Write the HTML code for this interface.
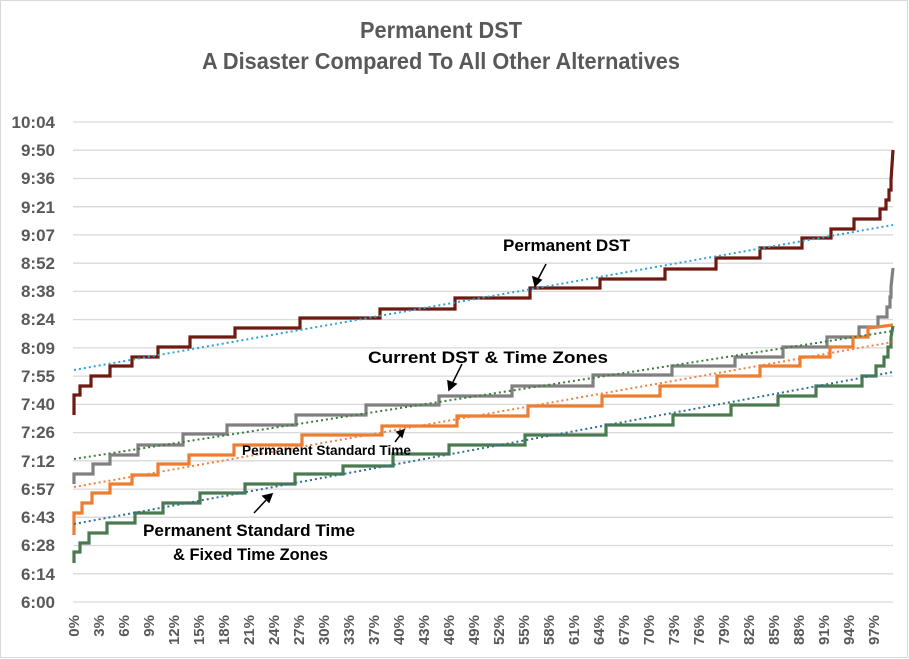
<!DOCTYPE html>
<html><head><style>
body{margin:0;background:#fff;}
svg{display:block;font-family:"Liberation Sans",sans-serif;}
</style></head><body>
<svg width="909" height="659" viewBox="0 0 909 659" xmlns="http://www.w3.org/2000/svg">
<rect x="0.5" y="0.5" width="907" height="657" fill="#fff" stroke="#d9d9d9"/>
<text x="360" y="38" font-size="23" font-weight="bold" fill="#595959" textLength="162" lengthAdjust="spacingAndGlyphs">Permanent DST</text>
<text x="202" y="69" font-size="23" font-weight="bold" fill="#595959" textLength="478" lengthAdjust="spacingAndGlyphs">A Disaster  Compared To All Other Alternatives</text>
<g stroke="#d9d9d9" stroke-width="1.3">
<line x1="73" x2="893" y1="122" y2="122"/><line x1="73" x2="893" y1="150.2" y2="150.2"/><line x1="73" x2="893" y1="178.5" y2="178.5"/><line x1="73" x2="893" y1="206.7" y2="206.7"/><line x1="73" x2="893" y1="234.9" y2="234.9"/><line x1="73" x2="893" y1="263.2" y2="263.2"/><line x1="73" x2="893" y1="291.4" y2="291.4"/><line x1="73" x2="893" y1="319.6" y2="319.6"/><line x1="73" x2="893" y1="347.9" y2="347.9"/><line x1="73" x2="893" y1="376.1" y2="376.1"/><line x1="73" x2="893" y1="404.4" y2="404.4"/><line x1="73" x2="893" y1="432.6" y2="432.6"/><line x1="73" x2="893" y1="460.8" y2="460.8"/><line x1="73" x2="893" y1="489.1" y2="489.1"/><line x1="73" x2="893" y1="517.3" y2="517.3"/><line x1="73" x2="893" y1="545.5" y2="545.5"/><line x1="73" x2="893" y1="573.8" y2="573.8"/><line x1="73" x2="893" y1="602" y2="602"/>
</g>
<g font-size="17" font-weight="bold" fill="#595959" text-anchor="end">
<text x="55" y="128">10:04</text><text x="55" y="156">9:50</text><text x="55" y="184">9:36</text><text x="55" y="213">9:21</text><text x="55" y="241">9:07</text><text x="55" y="269">8:52</text><text x="55" y="297">8:38</text><text x="55" y="325">8:24</text><text x="55" y="354">8:09</text><text x="55" y="382">7:55</text><text x="55" y="410">7:40</text><text x="55" y="438">7:26</text><text x="55" y="467">7:12</text><text x="55" y="495">6:57</text><text x="55" y="523">6:43</text><text x="55" y="551">6:28</text><text x="55" y="580">6:14</text><text x="55" y="608">6:00</text>
</g>
<g font-size="15" font-weight="bold" fill="#595959" text-anchor="end">
<text transform="translate(79,615) rotate(-90)">0%</text><text transform="translate(104,615) rotate(-90)">3%</text><text transform="translate(129,615) rotate(-90)">6%</text><text transform="translate(154,615) rotate(-90)">9%</text><text transform="translate(179,615) rotate(-90)">12%</text><text transform="translate(204,615) rotate(-90)">15%</text><text transform="translate(229,615) rotate(-90)">18%</text><text transform="translate(254,615) rotate(-90)">21%</text><text transform="translate(279,615) rotate(-90)">24%</text><text transform="translate(304,615) rotate(-90)">27%</text><text transform="translate(329,615) rotate(-90)">30%</text><text transform="translate(354,615) rotate(-90)">33%</text><text transform="translate(379,615) rotate(-90)">37%</text><text transform="translate(404,615) rotate(-90)">40%</text><text transform="translate(429,615) rotate(-90)">43%</text><text transform="translate(454,615) rotate(-90)">46%</text><text transform="translate(479,615) rotate(-90)">49%</text><text transform="translate(504,615) rotate(-90)">52%</text><text transform="translate(529,615) rotate(-90)">55%</text><text transform="translate(554,615) rotate(-90)">58%</text><text transform="translate(579,615) rotate(-90)">61%</text><text transform="translate(604,615) rotate(-90)">64%</text><text transform="translate(629,615) rotate(-90)">67%</text><text transform="translate(654,615) rotate(-90)">70%</text><text transform="translate(679,615) rotate(-90)">73%</text><text transform="translate(704,615) rotate(-90)">76%</text><text transform="translate(729,615) rotate(-90)">79%</text><text transform="translate(754,615) rotate(-90)">82%</text><text transform="translate(779,615) rotate(-90)">85%</text><text transform="translate(804,615) rotate(-90)">88%</text><text transform="translate(829,615) rotate(-90)">91%</text><text transform="translate(854,615) rotate(-90)">94%</text><text transform="translate(879,615) rotate(-90)">97%</text>
</g>
<g fill="none" stroke-width="3.2" stroke-linejoin="miter">
<path stroke="#6e1a10" d="M74,415 V395 H80 V386 H91 V376 H110 V366 H132 V357 H158 V347 H190 V337 H235 V328 H300 V318 H380 V309 H455 V298 H530 V288 H600 V279 H665 V269 H716 V258 H760 V248 H802 V238 H831 V229 H854 V219 H880 V209 H886 V200 H889 V190 H891 V180 L893,150"/>
<path stroke="#808080" d="M74,484 V474 H93 V464 H110 V455 H138 V445 H183 V434 H227 V425 H296 V415 H366 V405 H439 V396 H512 V386 H593 V375 H672 V366 H735 V357 H783 V347 H827 V337 H859 V327 H878 V317 H887 V307 H890 V297 H891 V287 L893,268"/>
<path stroke="#ed7d31" d="M74,535 V513 H82 V503 H92 V493 H110 V484 H132 V475 H158 V464 H189 V455 H234 V445 H302 V435 H382 V426 H457 V416 H528 V406 H602 V396 H660 V386 H717 V376 H760 V366 H800 V357 H830 V347 H853 V337 H868 V328 L893,325"/>
<path stroke="#4a7a50" d="M74,563 V552 H80 V543 H89 V533 H107 V523 H135 V513 H163 V503 H200 V493 H245 V484 H295 V474 H343 V466 H393 V454 H449 V445 H525 V435 H606 V425 H673 V415 H731 V405 H778 V396 H816 V386 H862 V376 H876 V366 H884 V357 H888 V347 H891 V337 L893,326"/>
</g>
<g fill="none" stroke-width="2" stroke-dasharray="2 3">
<line x1="74" y1="370" x2="893" y2="225" stroke="#2aa3d8"/>
<line x1="74" y1="459" x2="893" y2="331" stroke="#3a7d3a"/>
<line x1="74" y1="487" x2="893" y2="342" stroke="#f08040"/>
<line x1="74" y1="524" x2="893" y2="372" stroke="#2e6f95"/>
</g>
<g font-weight="bold" fill="#000">
<text x="503" y="251" font-size="17" textLength="127" lengthAdjust="spacingAndGlyphs">Permanent DST</text>
<text x="368" y="363" font-size="17" textLength="240" lengthAdjust="spacingAndGlyphs">Current DST &amp; Time Zones</text>
<text x="242" y="455" font-size="13.5" textLength="169" lengthAdjust="spacingAndGlyphs">Permanent Standard Time</text>
<text x="143" y="536" font-size="17" textLength="212" lengthAdjust="spacingAndGlyphs">Permanent Standard Time</text>
<text x="173" y="560" font-size="17" textLength="155" lengthAdjust="spacingAndGlyphs">&amp; Fixed Time Zones</text>
</g>
<g stroke="#000" stroke-width="1.5" fill="#000">
<line x1="546" y1="264" x2="537" y2="281"/><polygon points="535,286 533,277 541,280"/>
<line x1="462" y1="364" x2="452" y2="384"/><polygon points="449,390 448,381 456,384"/>
<line x1="395" y1="442" x2="401" y2="434"/><polygon points="404,430 397,432 402,437"/>
<line x1="254" y1="513" x2="268" y2="498"/><polygon points="272,494 263,496 269,502"/>
</g>
</svg>
</body></html>
